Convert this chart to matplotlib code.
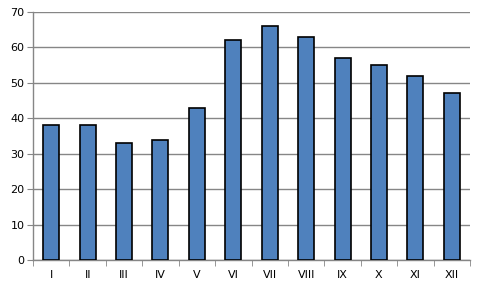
import matplotlib
matplotlib.use("Agg")
import matplotlib.pyplot as plt
import numpy as np

months = ["I", "II", "III", "IV", "V", "VI", "VII", "VIII", "IX", "X", "XI", "XII"]
values = [38, 38, 33, 34, 43, 62, 66, 63, 57, 55, 52, 47]
yticks = [0, 10, 20, 30, 40, 50, 60, 70]

fig = plt.figure(figsize=(4.8, 2.88), dpi=100)
ax = fig.add_axes([33/480, 1-260/288, (470-33)/480, (260-12)/288])
x = np.arange(len(months))
ax.bar(x, values, width=0.44, color="#4f81bd", edgecolor="black", linewidth=1.2, zorder=3)
ax.set_xlim(-0.5, len(months)-0.5)
ax.set_ylim(0, 70)
ax.set_yticks(yticks)
ax.set_yticklabels([str(v) for v in yticks], fontsize=8)
ax.yaxis.grid(True, color="#868686", linewidth=1.0, zorder=0)
ax.set_xticks(x)
ax.set_xticklabels(months, fontsize=8)
ax.set_xticks(np.arange(-0.5, len(months)), minor=True)
ax.tick_params(axis="x", which="major", length=0, pad=7)
ax.tick_params(axis="x", which="minor", length=4, color="#868686", direction="out")
ax.tick_params(axis="y", length=4, color="#868686", direction="out", pad=2)
for s in ["top", "right"]:
    ax.spines[s].set_visible(False)
for s in ["left", "bottom"]:
    ax.spines[s].set_color("#868686")
    ax.spines[s].set_linewidth(1.0)
fig.savefig("out.png", dpi=100)
